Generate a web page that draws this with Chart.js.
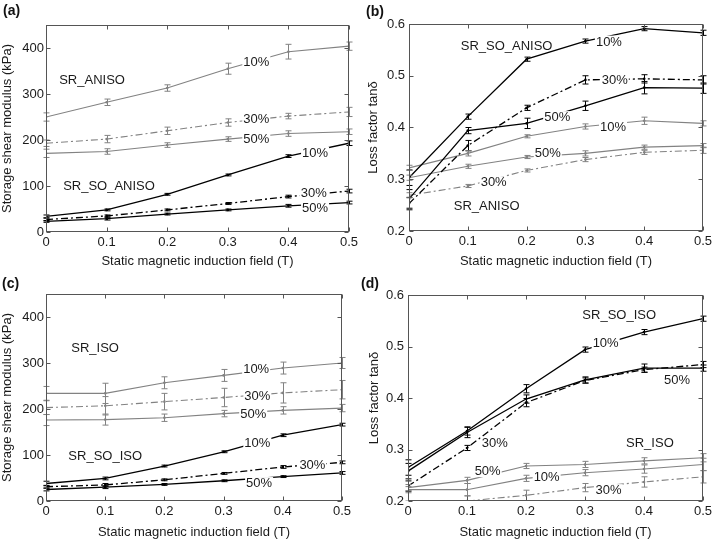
<!DOCTYPE html>
<html><head><meta charset="utf-8">
<script src="https://cdn.jsdelivr.net/npm/chart.js@4/dist/chart.umd.min.js"></script>
<style>
html,body{margin:0;padding:0;background:#fff;width:717px;height:542px;overflow:hidden;font-family:"Liberation Sans",Arial,sans-serif;}
canvas{position:absolute;}
.lab{position:absolute;font-weight:bold;font-size:14px;color:#111;line-height:16px;}
</style></head><body>
<canvas id="ca" width="358" height="270" style="left:0;top:0;width:358px;height:270px"></canvas>
<canvas id="cb" width="359" height="270" style="left:358px;top:0;width:359px;height:270px"></canvas>
<canvas id="cc" width="358" height="272" style="left:0;top:270px;width:358px;height:272px"></canvas>
<canvas id="cd" width="359" height="272" style="left:358px;top:270px;width:359px;height:272px"></canvas>
<div class="lab" style="left:3px;top:2px">(a)</div>
<div class="lab" style="left:366px;top:3px">(b)</div>
<div class="lab" style="left:2px;top:275px">(c)</div>
<div class="lab" style="left:361px;top:275px">(d)</div>
<script>
// ---------- data ----------
const xField = [0, 0.1, 0.2, 0.3, 0.4, 0.5];
const xTicks = [0, 0.1, 0.2, 0.3, 0.4, 0.5];
const gTicks = [0, 100, 200, 300, 400];
const tTicks = [0.2, 0.3, 0.4, 0.5, 0.6];

// (a) storage shear modulus, anisotropic (kPa)
const aSoAniso10 = [34, 48, 82, 124, 165, 193];
const aSoAniso10Err = [3, 2, 2, 2, 3, 5];
const aSoAniso30 = [27, 35, 48, 62, 77, 89];
const aSoAniso30Err = [3, 2, 2, 2, 3, 4];
const aSoAniso50 = [23, 29, 39, 48, 57, 64];
const aSoAniso50Err = [2, 3, 2, 2, 3, 3];
const aAniso10 = [250, 282, 313, 355, 392, 404];
const aAniso10Err = [9, 7, 7, 12, 16, 9];
const aAniso30 = [193, 202, 220, 238, 252, 261];
const aAniso30Err = [7, 8, 8, 8, 6, 10];
const aAniso50 = [171, 175, 189, 202, 214, 218];
const aAniso50Err = [9, 6, 5, 5, 6, 6];

// (b) loss factor, anisotropic
const bSoAniso10 = [0.303, 0.421, 0.532, 0.567, 0.591, 0.583];
const bSoAniso10Err = [0.015, 0.005, 0.004, 0.004, 0.004, 0.005];
const bSoAniso30 = [0.253, 0.365, 0.438, 0.492, 0.494, 0.492];
const bSoAniso30Err = [0.012, 0.01, 0.005, 0.008, 0.008, 0.008];
const bSoAniso50 = [0.262, 0.394, 0.408, 0.442, 0.477, 0.476];
const bSoAniso50Err = [0.018, 0.006, 0.01, 0.009, 0.012, 0.01];
const bAniso10 = [0.322, 0.35, 0.383, 0.402, 0.413, 0.408];
const bAniso10Err = [0.005, 0.005, 0.003, 0.005, 0.007, 0.005];
const bAniso30 = [0.269, 0.287, 0.317, 0.338, 0.352, 0.356];
const bAniso30Err = [0.005, 0.003, 0.003, 0.004, 0.004, 0.006];
const bAniso50 = [0.303, 0.325, 0.343, 0.35, 0.362, 0.365];
const bAniso50Err = [0.005, 0.004, 0.003, 0.005, 0.004, 0.004];

// (c) storage shear modulus, isotropic (kPa)
const cSoIso10 = [38, 49, 76, 107, 143, 166];
const cSoIso10Err = [5, 3, 2, 2, 3, 3];
const cSoIso30 = [31, 35, 46, 60, 74, 84];
const cSoIso30Err = [3, 3, 2, 2, 3, 3];
const cSoIso50 = [25, 30, 36, 44, 53, 61];
const cSoIso50Err = [3, 3, 2, 2, 2, 3];
const cIso10 = [234, 234, 257, 273, 289, 300];
const cIso10Err = [15, 22, 13, 13, 13, 12];
const cIso30 = [203, 207, 216, 225, 235, 242];
const cIso30Err = [15, 20, 18, 20, 22, 20];
const cIso50 = [176, 177, 181, 190, 197, 202];
const cIso50Err = [12, 12, 8, 7, 8, 8];

// (d) loss factor, isotropic
const dSoIso10 = [0.265, 0.336, 0.418, 0.494, 0.528, 0.554];
const dSoIso10Err = [0.015, 0.008, 0.008, 0.005, 0.005, 0.005];
const dSoIso30 = [0.229, 0.303, 0.391, 0.434, 0.455, 0.465];
const dSoIso30Err = [0.01, 0.005, 0.008, 0.005, 0.005, 0.006];
const dSoIso50 = [0.258, 0.333, 0.398, 0.435, 0.458, 0.458];
const dSoIso50Err = [0.015, 0.01, 0.008, 0.006, 0.008, 0.006];
const dIso10 = [0.222, 0.222, 0.244, 0.255, 0.262, 0.271];
const dIso10Err = [0.006, 0.012, 0.006, 0.006, 0.008, 0.012];
const dIso30 = [0.19, 0.2, 0.211, 0.226, 0.237, 0.247];
const dIso30Err = [0.01, 0.01, 0.01, 0.008, 0.01, 0.012];
const dIso50 = [0.226, 0.24, 0.268, 0.271, 0.278, 0.284];
const dIso50Err = [0.006, 0.006, 0.005, 0.006, 0.006, 0.008];

// text annotations (data coordinates)
const notesA = [
  {t:'SR_ANISO', x:0.076, y:331}, {t:'10%', x:0.347, y:370, bg:1}, {t:'30%', x:0.347, y:245, bg:1},
  {t:'50%', x:0.347, y:202, bg:1}, {t:'10%', x:0.444, y:172, bg:1}, {t:'SR_SO_ANISO', x:0.104, y:101},
  {t:'30%', x:0.442, y:86, bg:1}, {t:'50%', x:0.444, y:52, bg:1}];
const notesB = [
  {t:'SR_SO_ANISO', x:0.166, y:0.558}, {t:'10%', x:0.34, y:0.566, bg:1}, {t:'30%', x:0.35, y:0.492, bg:1},
  {t:'50%', x:0.252, y:0.420, bg:1}, {t:'10%', x:0.347, y:0.401, bg:1}, {t:'50%', x:0.236, y:0.350, bg:1},
  {t:'30%', x:0.144, y:0.294, bg:1}, {t:'SR_ANISO', x:0.132, y:0.248}];
const notesC = [
  {t:'SR_ISO', x:0.083, y:332}, {t:'10%', x:0.355, y:288, bg:1}, {t:'30%', x:0.357, y:228, bg:1},
  {t:'50%', x:0.35, y:189, bg:1}, {t:'10%', x:0.357, y:126, bg:1}, {t:'SR_SO_ISO', x:0.1, y:98},
  {t:'30%', x:0.45, y:78, bg:1}, {t:'50%', x:0.36, y:39, bg:1}];
const notesD = [
  {t:'SR_SO_ISO', x:0.358, y:0.562}, {t:'10%', x:0.335, y:0.506, bg:1}, {t:'50%', x:0.456, y:0.435},
  {t:'30%', x:0.147, y:0.313, bg:1}, {t:'SR_ISO', x:0.41, y:0.313}, {t:'50%', x:0.135, y:0.258, bg:1},
  {t:'10%', x:0.235, y:0.246, bg:1}, {t:'30%', x:0.34, y:0.221, bg:1}];

// ---------- rendering ----------
const FONT = '"Liberation Sans", Arial, sans-serif';
const BLACK = '#000000', GRAY = '#828282', FRAME = '#555555', TXT = '#1a1a1a';
const DASHDOT = [7, 3, 2, 3];

function series(ys, errs, color, dashed) {
  return {
    data: xField.map((x, i) => ({x, y: ys[i]})),
    err: errs,
    borderColor: color, backgroundColor: color,
    borderWidth: color === BLACK ? 1.3 : 1.1,
    borderDash: dashed ? DASHDOT : [],
    pointRadius: 1.3, pointHoverRadius: 1.3, pointBorderWidth: 0,
    tension: 0, fill: false
  };
}

const fmt = v => String(Math.round(v * 10) / 10);

const figPlugin = {
  id: 'fig',
  afterDatasetsDraw(chart, args, opts) {
    const {ctx, chartArea: a, scales: {x, y}} = chart;
    // error bars
    ctx.save();
    ctx.beginPath(); ctx.rect(a.left - 5, a.top, a.width + 10, a.height); ctx.clip();
    chart.data.datasets.forEach(ds => {
      ctx.strokeStyle = ds.borderColor; ctx.lineWidth = 1; ctx.setLineDash([]);
      ds.data.forEach((p, i) => {
        const e = ds.err[i];
        const px = Math.round(x.getPixelForValue(p.x)) + 0.5;
        const y1 = y.getPixelForValue(p.y - e), y2 = y.getPixelForValue(p.y + e);
        ctx.beginPath();
        ctx.moveTo(px, y1); ctx.lineTo(px, y2);
        ctx.moveTo(px - 3, y1); ctx.lineTo(px + 3, y1);
        ctx.moveTo(px - 3, y2); ctx.lineTo(px + 3, y2);
        ctx.stroke();
      });
    });
    ctx.restore();
    // notes
    ctx.save();
    ctx.font = '13px ' + FONT;
    ctx.textAlign = 'center'; ctx.textBaseline = 'middle';
    (opts.notes || []).forEach(n => {
      const px = x.getPixelForValue(n.x), py = y.getPixelForValue(n.y);
      const w = ctx.measureText(n.t).width;
      if (n.bg) { ctx.fillStyle = '#fff'; ctx.fillRect(px - w / 2 - 1, py - 6, w + 2, 12); }
      ctx.fillStyle = TXT; ctx.fillText(n.t, px, py + 0.5);
    });
    ctx.restore();
    // frame with inward ticks
    ctx.save();
    ctx.strokeStyle = FRAME; ctx.lineWidth = 1;
    const L = Math.round(a.left) + 0.5, R = Math.round(a.right) - 0.5;
    const T = Math.round(a.top) + 0.5, B = Math.round(a.bottom) - 0.5;
    ctx.strokeRect(L, T, R - L, B - T);
    ctx.beginPath();
    x.ticks.forEach(t => {
      const px = Math.round(x.getPixelForValue(t.value)) + 0.5;
      ctx.moveTo(px, B); ctx.lineTo(px, B - 4);
      ctx.moveTo(px, T); ctx.lineTo(px, T + 4);
    });
    y.ticks.forEach(t => {
      const py = Math.round(y.getPixelForValue(t.value)) + 0.5;
      ctx.moveTo(L, py); ctx.lineTo(L + 4, py);
      ctx.moveTo(R, py); ctx.lineTo(R - 4, py);
    });
    ctx.stroke();
    ctx.restore();
  }
};

function makePanel(id, cfg) {
  new Chart(document.getElementById(id), {
    type: 'line',
    data: {datasets: cfg.datasets},
    plugins: [figPlugin],
    options: {
      responsive: false, animation: false, maintainAspectRatio: false,
      layout: {padding: {left: 0, top: cfg.top, right: cfg.right, bottom: 0}},
      plugins: {legend: {display: false}, tooltip: {enabled: false}, fig: {notes: cfg.notes}},
      events: [],
      scales: {
        x: {
          type: 'linear', min: 0, max: 0.5,
          afterBuildTicks: s => { s.ticks = xTicks.map(v => ({value: v})); },
          afterFit: s => { s.height = cfg.xh; s.paddingLeft = 0; s.paddingRight = 0; },
          grid: {display: false, drawTicks: false}, border: {display: false},
          ticks: {padding: 3, color: TXT, font: {size: 13, family: FONT}, maxRotation: 0, autoSkip: false, callback: fmt},
          title: {display: true, text: 'Static magnetic induction field (T)', color: TXT,
                  font: {size: 13, family: FONT}, padding: {top: 0, bottom: cfg.xtp}}
        },
        y: {
          type: 'linear', min: cfg.ymin, max: cfg.ymax,
          afterBuildTicks: s => { s.ticks = cfg.yticks.map(v => ({value: v})); },
          afterFit: s => { s.width = cfg.yw; s.paddingTop = 0; s.paddingBottom = 0; },
          grid: {display: false, drawTicks: false}, border: {display: false},
          ticks: {padding: cfg.ytp, color: TXT, font: {size: 13, family: FONT}, autoSkip: false, callback: fmt},
          title: {display: true, text: cfg.ytitle, color: TXT,
                  font: {size: 13, family: FONT}, padding: {top: cfg.ytitlePad, bottom: 0}}
        }
      }
    }
  });
}

makePanel('ca', {
  datasets: [
    series(aSoAniso10, aSoAniso10Err, BLACK, false),
    series(aSoAniso30, aSoAniso30Err, BLACK, true),
    series(aSoAniso50, aSoAniso50Err, BLACK, false),
    series(aAniso10, aAniso10Err, GRAY, false),
    series(aAniso30, aAniso30Err, GRAY, true),
    series(aAniso50, aAniso50Err, GRAY, false)
  ],
  notes: notesA, ymin: 0, ymax: 450, yticks: gTicks, ytitle: 'Storage shear modulus (kPa)',
  top: 25, right: 9, xh: 38, yw: 46, ytp: 2, ytitlePad: 0, xtp: 1
});
makePanel('cb', {
  datasets: [
    series(bSoAniso10, bSoAniso10Err, BLACK, false),
    series(bSoAniso30, bSoAniso30Err, BLACK, true),
    series(bSoAniso50, bSoAniso50Err, BLACK, false),
    series(bAniso10, bAniso10Err, GRAY, false),
    series(bAniso30, bAniso30Err, GRAY, true),
    series(bAniso50, bAniso50Err, GRAY, false)
  ],
  notes: notesB, ymin: 0.2, ymax: 0.6, yticks: tTicks, ytitle: 'Loss factor tanδ',
  top: 24, right: 14, xh: 39, yw: 51, ytp: 4, ytitlePad: 8, xtp: 1
});
makePanel('cc', {
  datasets: [
    series(cSoIso10, cSoIso10Err, BLACK, false),
    series(cSoIso30, cSoIso30Err, BLACK, true),
    series(cSoIso50, cSoIso50Err, BLACK, false),
    series(cIso10, cIso10Err, GRAY, false),
    series(cIso30, cIso30Err, GRAY, true),
    series(cIso50, cIso50Err, GRAY, false)
  ],
  notes: notesC, ymin: 0, ymax: 450, yticks: gTicks, ytitle: 'Storage shear modulus (kPa)',
  top: 24, right: 16, xh: 41, yw: 46, ytp: 2, ytitlePad: 0, xtp: 2
});
makePanel('cd', {
  datasets: [
    series(dSoIso10, dSoIso10Err, BLACK, false),
    series(dSoIso30, dSoIso30Err, BLACK, true),
    series(dSoIso50, dSoIso50Err, BLACK, false),
    series(dIso10, dIso10Err, GRAY, false),
    series(dIso30, dIso30Err, GRAY, true),
    series(dIso50, dIso50Err, GRAY, false)
  ],
  notes: notesD, ymin: 0.2, ymax: 0.6, yticks: tTicks, ytitle: 'Loss factor tanδ',
  top: 25, right: 14, xh: 41, yw: 50, ytp: 4, ytitlePad: 9, xtp: 2
});
</script>
</body></html>
